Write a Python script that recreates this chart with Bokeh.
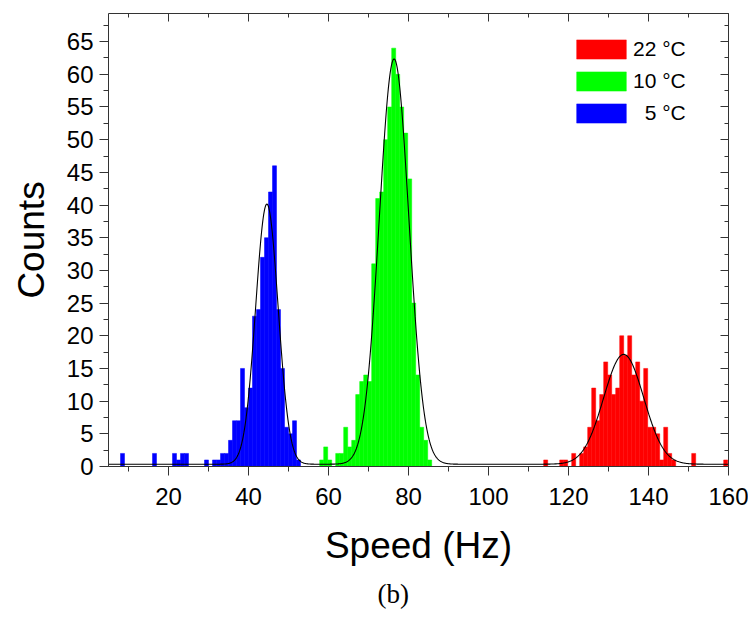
import numpy as np
from bokeh.plotting import figure
from bokeh.models import (LinearAxis, SingleIntervalTicker, Range1d, Legend,
                          LegendItem, Title)
from bokeh.embed import file_html
from bokeh.resources import INLINE

# ---------------- data ----------------
blue_speed = [8.5, 16.5, 21.5, 22.5, 23.5, 24.5, 29.5, 31.5, 32.5, 33.5, 34.5,
              35.5, 36.5, 37.5, 38.5, 39.5, 40.5, 41.5, 42.5, 43.5, 44.5, 45.5,
              46.5, 47.5, 48.5, 49.5, 50.5, 51.5, 52.5]
blue_counts = [2, 2, 2, 1, 2, 2, 1, 1, 1, 2, 2,
               4, 7, 7, 15, 9, 12, 23, 24, 32, 35, 42,
               46, 24, 15, 6, 5, 7, 1]

green_speed = [58.3, 59.3, 60.3, 62.3, 63.3, 64.3, 65.3, 66.3, 67.3, 68.3, 69.3,
               70.3, 71.3, 72.3, 73.3, 74.3, 75.3, 76.3, 77.3, 78.3, 79.3, 80.3,
               81.3, 82.3, 83.3, 84.3, 85.3]
green_counts = [1, 3, 1, 2, 2, 6, 3, 4, 11, 13, 14,
                13, 31, 41, 42, 50, 55, 64, 60, 55, 51, 44,
                25, 14, 6, 4, 1]

red_speed = [114.3, 118.3, 119.3, 121.3, 123.3, 124.3, 125.3, 126.3, 127.3, 128.3,
             129.3, 130.3, 131.3, 132.3, 133.3, 134.3, 135.3, 136.3, 137.3, 138.3,
             139.3, 140.3, 141.3, 142.3, 143.3, 144.3, 145.3, 146.3, 151.3, 159.3]
red_counts = [1, 1, 1, 2, 2, 3, 6, 12, 7, 11,
              16, 14, 11, 12, 20, 17, 20, 14, 16, 10,
              15, 6, 6, 5, 1, 6, 2, 1, 2, 1]

# Gaussian fit parameters (blue, green, red) and common baseline
fit_centers = [44.6, 76.4, 133.8]
fit_sigmas = [2.8, 3.7, 5.0]
fit_amplitudes = [39.8, 62.0, 16.8]
fit_baseline = 0.35

legend_labels = ["22 \u00b0C", "10 \u00b0C", "\u00a0\u00a05 \u00b0C"]
x_ticks_interval = 20
y_ticks_interval = 5

# ---------------- figure ----------------
FONT = "Liberation Sans"
AXIS_COLOR = "#333333"

p = figure(width=748, height=617, x_range=Range1d(5, 160), y_range=Range1d(0, 69.3),
           output_backend="svg", toolbar_location=None,
           min_border_left=108, min_border_right=20, min_border_top=13,
           min_border_bottom=150)
p.outline_line_color = None
p.xgrid.visible = False
p.ygrid.visible = False
p.background_fill_color = "white"
p.border_fill_color = "white"

bin_w = 1.0
r_blue = p.vbar(x=blue_speed, top=blue_counts, bottom=0, width=bin_w,
                fill_color="#0000FF", line_color="#0000FF", line_width=0.5)
r_green = p.vbar(x=green_speed, top=green_counts, bottom=0, width=bin_w,
                 fill_color="#00FF00", line_color="#00FF00", line_width=0.5)
r_red = p.vbar(x=red_speed, top=red_counts, bottom=0, width=bin_w,
               fill_color="#FF0000", line_color="#FF0000", line_width=0.5)

xs = np.linspace(5, 160, 1200)
ys = np.full_like(xs, fit_baseline)
for c, s, a in zip(fit_centers, fit_sigmas, fit_amplitudes):
    ys = ys + a * np.exp(-0.5 * ((xs - c) / s) ** 2)
p.line(xs, ys, line_color="black", line_width=1.1)

xt = SingleIntervalTicker(interval=x_ticks_interval, num_minor_ticks=2)
yt = SingleIntervalTicker(interval=y_ticks_interval, num_minor_ticks=2)


def style_main(ax, ticker, label, standoff, label_standoff):
    ax.ticker = ticker
    ax.axis_label = label
    ax.axis_label_text_font = FONT
    ax.axis_label_text_font_size = "37px"
    ax.axis_label_text_font_style = "normal"
    ax.axis_label_text_color = "black"
    ax.axis_label_standoff = label_standoff
    ax.major_label_text_font = FONT
    ax.major_label_text_font_size = "24px"
    ax.major_label_text_color = "black"
    ax.major_label_standoff = standoff
    ax.axis_line_color = AXIS_COLOR
    ax.major_tick_line_color = AXIS_COLOR
    ax.minor_tick_line_color = AXIS_COLOR
    ax.major_tick_out = 9
    ax.major_tick_in = 0
    ax.minor_tick_out = 5
    ax.minor_tick_in = 0


style_main(p.xaxis[0], xt, "Speed (Hz)", 12, 17)
style_main(p.yaxis[0], yt, "Counts", 6, 12)
p.yaxis[0].major_label_orientation = "horizontal"

for loc, tk in (("above", xt), ("right", yt)):
    ax = LinearAxis(ticker=tk)
    ax.major_label_text_font_size = "1px"
    ax.major_label_text_color = None
    ax.major_label_standoff = 0
    ax.axis_line_color = AXIS_COLOR
    ax.major_tick_line_color = AXIS_COLOR
    ax.minor_tick_line_color = AXIS_COLOR
    ax.major_tick_in = 8
    ax.major_tick_out = 0
    ax.minor_tick_in = 4
    ax.minor_tick_out = 0
    p.add_layout(ax, loc)

legend = Legend(items=[LegendItem(label=legend_labels[0], renderers=[r_red]),
                       LegendItem(label=legend_labels[1], renderers=[r_green]),
                       LegendItem(label=legend_labels[2], renderers=[r_blue])],
                location=(462, 341), border_line_color=None,
                background_fill_alpha=0, padding=0, margin=0, spacing=8,
                glyph_width=62, glyph_height=24, label_height=24,
                label_standoff=1, label_text_font=FONT,
                label_text_font_size="21px", label_text_color="black")
p.add_layout(legend)

caption = Title(text="(b)", align="left", offset=269, standoff=17,
                text_font="Liberation Serif", text_font_size="27px",
                text_font_style="normal", text_color="black")
p.add_layout(caption, "below")

open("out.html", "w").write(file_html(p, INLINE))
